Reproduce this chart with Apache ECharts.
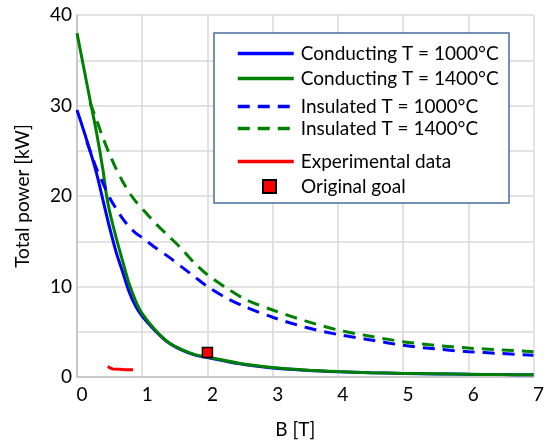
<!DOCTYPE html>
<html>
<head>
<meta charset="utf-8">
<script src="https://cdn.jsdelivr.net/npm/echarts@6/dist/echarts.min.js"></script>
<style>
  html, body { margin: 0; padding: 0; background: #fff; }
  #chart { width: 547px; height: 444px; }
</style>
</head>
<body>
<div id="chart"></div>
<script>
// values
const condHotB = [0, 0.1, 0.2, 0.3, 0.4, 0.45, 0.5, 0.6, 0.7, 0.8, 0.9, 1.0, 1.2, 1.4, 1.6, 1.8, 2.0, 2.5, 3.0, 3.5, 4.0, 4.5, 5.0, 5.5, 6.0, 6.5, 7.0]
const condHotP = [38, 34.3, 30.6, 27.0, 22.8, 20.2, 18.3, 15.4, 12.8, 10.3, 8.4, 7.0, 5.2, 3.85, 3.05, 2.5, 2.2, 1.5, 1.05, 0.78, 0.6, 0.48, 0.4, 0.35, 0.3, 0.27, 0.25]

const condColdB = [0, 0.1, 0.2, 0.3, 0.4, 0.5, 0.6, 0.7, 0.8, 0.9, 1.0, 1.2, 1.4, 1.6, 1.8, 2.0, 2.5, 3.0, 3.5, 4.0, 4.5, 5.0, 5.5, 6.0, 6.5, 7.0]
const condColdP = [29.5, 27.3, 25.0, 22.5, 19.5, 16.5, 13.8, 11.6, 9.4, 7.8, 6.7, 5.1, 3.8, 3.0, 2.45, 2.15, 1.45, 1.0, 0.75, 0.58, 0.47, 0.4, 0.34, 0.3, 0.27, 0.24]

const insHotB = [0.2, 0.3, 0.4, 0.5, 0.6, 0.7, 0.8, 0.9, 1.0, 1.2, 1.4, 1.6, 1.8, 2.0, 2.3, 2.6, 3.0, 3.5, 4.0, 4.5, 5.0, 5.5, 6.0, 6.5, 7.0]
const insHotP = [30.3, 28.4, 26.4, 24.6, 23.0, 21.6, 20.4, 19.4, 18.6, 17.0, 15.6, 14.2, 12.6, 11.3, 9.8, 8.5, 7.4, 6.2, 5.2, 4.5, 3.9, 3.5, 3.2, 3.0, 2.8]

const insColdB = [0.15, 0.25, 0.3, 0.4, 0.5, 0.6, 0.7, 0.8, 0.9, 1.0, 1.2, 1.4, 1.6, 1.8, 2.0, 2.3, 2.6, 3.0, 3.5, 4.0, 4.5, 5.0, 5.5, 6.0, 6.5, 7.0]
const insColdP = [26.0, 24.0, 23.0, 21.4, 19.8, 18.6, 17.5, 16.6, 15.9, 15.4, 14.3, 13.3, 12.2, 11.1, 10.0, 8.7, 7.7, 6.6, 5.5, 4.7, 4.1, 3.5, 3.1, 2.8, 2.6, 2.4]

const expB = [0.47, 0.49, 0.55, 0.65, 0.75, 0.86]
const expP = [1.15, 0.95, 0.88, 0.85, 0.8, 0.8]

const goalB = [2.0]
const goalP = [2.7]

const pairs = (xs, ys) => xs.map((x, i) => [x, ys[i]])

const FONT = 'Lato'
const chart = echarts.init(document.getElementById('chart'), null, { renderer: 'canvas' })

// line legends: hide the marker ECharts puts in the middle of the sample line
const legendBase = {
  orient: 'vertical',
  padding: 0,
  itemWidth: 56,
  itemHeight: 14,
  z: 20,
  selectedMode: false,
  itemStyle: { opacity: 0 },
  lineStyle: { width: 3.5 },
  textStyle: { fontFamily: FONT, fontSize: 19, color: '#000', lineHeight: 16, padding: [0, 0, 0, 2] },
}

chart.setOption({
  animation: false,
  grid: { left: 77, right: 12, top: 15, bottom: 67 },
  xAxis: {
    type: 'value', min: 0, max: 7, interval: 1,
    name: 'B [T]', nameLocation: 'middle', nameGap: 43,
    nameTextStyle: { fontFamily: FONT, fontSize: 19, color: '#000', padding: [0, 20, 0, 0] },
    axisLine: { lineStyle: { color: '#bfbfbf', width: 1.5 } },
    axisTick: { show: false },
    axisLabel: { fontFamily: FONT, fontSize: 19, color: '#000', margin: 8, padding: [0, 0, 0, 10] },
    splitLine: { lineStyle: { color: '#d9d9d9', width: 1.5 } },
  },
  yAxis: {
    type: 'value', min: 0, max: 40, interval: 5,
    name: 'Total power [kW]', nameLocation: 'middle', nameGap: 45,
    nameTextStyle: { fontFamily: FONT, fontSize: 19, color: '#000' },
    axisLine: { show: true, lineStyle: { color: '#bfbfbf', width: 1.5 } },
    axisTick: { show: false },
    axisLabel: { fontFamily: FONT, fontSize: 19, color: '#000', margin: 5,
      formatter: (v) => (v % 10 === 0 ? String(v) : '') },
    splitLine: { lineStyle: { color: '#d9d9d9', width: 1.5 } },
  },
  graphic: [{
    type: 'rect', z: 10,
    shape: { x: 214, y: 33, width: 295, height: 170 },
    style: { fill: '#fff', stroke: '#4a6b9d', lineWidth: 1.5 },
  }],
  legend: [
    Object.assign({}, legendBase, { left: 236, top: 44, itemGap: 6,
      data: ['Conducting T = 1000°C', 'Conducting T = 1400°C'] }),
    Object.assign({}, legendBase, { left: 236, top: 97, itemGap: 3,
      data: ['Insulated T = 1000°C', 'Insulated T = 1400°C'] }),
    Object.assign({}, legendBase, { left: 236, top: 152, itemGap: 0,
      data: ['Experimental data'] }),
    Object.assign({}, legendBase, { left: 262, top: 177, itemGap: 0, itemWidth: 13, itemHeight: 13,
      itemStyle: { opacity: 1 },
      textStyle: Object.assign({}, legendBase.textStyle, { padding: [0, 0, 0, 20] }),
      data: [{ name: 'Original goal', icon: 'rect' }] }),
  ],
  series: [
    { name: 'Conducting T = 1000°C', type: 'line', symbol: 'none', smooth: 0.3,
      data: pairs(condColdB, condColdP), lineStyle: { color: '#0000ff', width: 3 }, itemStyle: { color: '#0000ff' } },
    { name: 'Conducting T = 1400°C', type: 'line', symbol: 'none', smooth: 0.3,
      data: pairs(condHotB, condHotP), lineStyle: { color: '#008000', width: 3 }, itemStyle: { color: '#008000' } },
    { name: 'Insulated T = 1000°C', type: 'line', symbol: 'none', smooth: 0.3,
      data: pairs(insColdB, insColdP), lineStyle: { color: '#0000ff', width: 3, type: [12, 8] }, itemStyle: { color: '#0000ff' } },
    { name: 'Insulated T = 1400°C', type: 'line', symbol: 'none', smooth: 0.3,
      data: pairs(insHotB, insHotP), lineStyle: { color: '#008000', width: 3, type: [12, 8] }, itemStyle: { color: '#008000' } },
    { name: 'Experimental data', type: 'line', symbol: 'none',
      data: pairs(expB, expP), lineStyle: { color: '#ff0000', width: 3 }, itemStyle: { color: '#ff0000' } },
    { name: 'Original goal', type: 'scatter', symbol: 'rect', symbolSize: 10, z: 5,
      data: pairs(goalB, goalP), itemStyle: { color: '#ff0000', opacity: 1, borderColor: '#000', borderWidth: 1.5 } },
  ],
})

window.addEventListener('resize', () => chart.resize())
</script>
</body>
</html>
